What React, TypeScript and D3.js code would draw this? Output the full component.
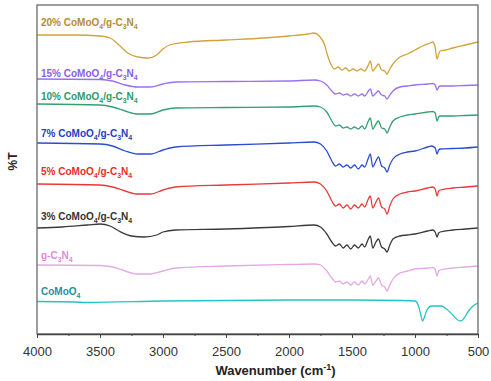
import React, { useRef, useEffect } from "react";
import * as d3 from "d3";

type Pt = [number, number];

// FTIR spectra, [wavenumber (cm-1), %T offset units]
const comoo4: Pt[] = [[4000, 32.5], [3700, 32], [3600, 31.5], [3000, 33], [2000, 34], [1500, 34], [1100, 33.5], [1000, 33], [975, 29], [955, 20], [940, 13], [925, 17], [905, 24], [870, 28], [830, 28], [790, 28], [750, 25], [700, 19], [660, 14], [635, 13], [610, 16], [575, 23], [540, 28], [500, 31]];

const gc3n4: Pt[] = [[4000, 69], [3500, 68.5], [3400, 67], [3300, 63], [3200, 60], [3100, 60], [3000, 63], [2900, 66], [2500, 68], [2000, 69.5], [1800, 70], [1750, 69], [1700, 63], [1660, 56], [1630, 52], [1600, 53], [1570, 50], [1540, 52], [1510, 49], [1480, 52], [1450, 49], [1420, 53], [1400, 50], [1370, 55], [1355, 58], [1335, 49], [1310, 53], [1290, 56], [1265, 49], [1240, 47], [1222, 43], [1200, 49], [1175, 55], [1120, 61], [1060, 63], [1000, 65], [900, 66], [860, 66.5], [840, 65], [825, 58], [812, 63], [800, 64], [700, 66], [600, 67], [500, 68]];

const pct3: Pt[] = [[4000, 106], [3800, 107], [3600, 109], [3500, 110], [3420, 108], [3350, 103], [3250, 98], [3150, 97], [3050, 99], [3000, 102], [2900, 104], [2500, 105], [2000, 107.5], [1800, 109], [1750, 107], [1700, 100], [1660, 92], [1630, 88], [1600, 90], [1570, 86], [1540, 89], [1510, 85], [1480, 89], [1450, 86], [1420, 90], [1400, 87], [1370, 95], [1355, 98], [1335, 86], [1310, 92], [1290, 95], [1265, 87], [1240, 85], [1222, 82], [1200, 89], [1175, 95], [1120, 98], [1060, 99], [1000, 100], [900, 103], [860, 104], [840, 102], [825, 97], [812, 101], [800, 102], [700, 104], [600, 105], [500, 106]];

const pct5: Pt[] = [[4000, 150], [3500, 149], [3400, 147], [3300, 143], [3200, 140], [3100, 140], [3000, 144], [2900, 147], [2500, 149], [2000, 151], [1800, 152], [1750, 150], [1700, 143], [1660, 133], [1630, 128], [1600, 130], [1570, 126], [1540, 129], [1510, 125], [1480, 129], [1450, 126], [1420, 130], [1400, 127], [1370, 135], [1355, 138], [1335, 126], [1310, 132], [1290, 136], [1265, 127], [1240, 125], [1222, 120], [1200, 128], [1175, 135], [1120, 140], [1060, 142], [1000, 143], [900, 146], [860, 147], [840, 145], [825, 138], [812, 143], [800, 144], [700, 146], [600, 147], [500, 148]];

const pct7: Pt[] = [[4000, 191], [3500, 190], [3400, 188], [3300, 183], [3200, 180], [3100, 180], [3000, 184], [2900, 187], [2500, 189], [2000, 191], [1800, 192], [1750, 190], [1700, 183], [1660, 173], [1630, 168], [1600, 170], [1570, 167], [1540, 169], [1510, 166], [1480, 169], [1450, 165], [1420, 169], [1400, 167], [1370, 176], [1355, 180], [1335, 167], [1310, 173], [1290, 177], [1265, 168], [1240, 166], [1222, 162], [1200, 169], [1175, 175], [1120, 180], [1060, 182], [1000, 183], [900, 187], [870, 188], [840, 186], [825, 180], [812, 184], [800, 185], [700, 185.5], [600, 186], [500, 187]];

const pct10: Pt[] = [[4000, 230], [3500, 229], [3400, 227], [3300, 223], [3200, 220], [3100, 220], [3000, 224], [2900, 226], [2500, 226.5], [2000, 227], [1800, 228], [1750, 227], [1700, 222], [1660, 213], [1630, 208], [1600, 209], [1570, 206], [1540, 207], [1510, 205], [1480, 207], [1450, 205], [1420, 208], [1400, 205], [1370, 213], [1355, 216], [1335, 205], [1310, 210], [1290, 213], [1265, 206], [1240, 205], [1222, 201], [1200, 207], [1175, 213], [1120, 217], [1060, 219], [1000, 220], [900, 222], [860, 222.5], [840, 221], [825, 213], [812, 217], [800, 218], [700, 218], [600, 218.5], [500, 219]];

const pct15: Pt[] = [[4000, 255], [3500, 254.5], [3400, 253], [3300, 249], [3200, 247], [3100, 247], [3000, 250], [2900, 252], [2500, 252.5], [2000, 253], [1800, 254], [1750, 253], [1700, 249], [1660, 243], [1630, 240], [1600, 241], [1570, 239], [1540, 240], [1510, 238], [1480, 240], [1450, 238], [1420, 240], [1400, 238], [1370, 243], [1355, 245], [1335, 238], [1310, 241], [1290, 243], [1265, 239], [1240, 238], [1222, 235], [1200, 239], [1175, 243], [1120, 247], [1060, 248], [1000, 249], [900, 250], [860, 250.5], [840, 249], [825, 244], [812, 247], [800, 248], [700, 248], [600, 248.5], [500, 249]];

const pct20: Pt[] = [[4000, 299], [3700, 299], [3500, 298], [3420, 296], [3350, 289], [3280, 281], [3200, 277], [3120, 276], [3050, 279], [3000, 285], [2950, 289], [2800, 292], [2500, 294], [2200, 296], [2000, 298], [1850, 300], [1800, 301], [1760, 298], [1720, 290], [1690, 277], [1660, 268], [1640, 265], [1610, 267], [1580, 264], [1550, 266], [1520, 263], [1490, 265], [1460, 263], [1430, 265], [1400, 263], [1370, 269], [1355, 273], [1335, 263], [1310, 267], [1290, 270], [1265, 264], [1240, 263], [1222, 260], [1200, 265], [1175, 270], [1120, 277], [1060, 280], [1000, 284], [940, 288], [880, 291], [860, 292], [840, 287], [825, 275], [812, 280], [800, 283], [760, 284], [700, 286], [600, 289], [500, 292]];

const seriesNames = ["CoMoO4", "g-C3N4", "3%", "5%", "7%", "10%", "15%", "20%"];
const seriesData = [comoo4, gc3n4, pct3, pct5, pct7, pct10, pct15, pct20];
const lineColors = ["#25c4c4", "#e4a8e6", "#3a3a3a", "#e83a3a", "#2b4cd0", "#33a070", "#9a70ee", "#d1a43a"];
const labelColors = ["#2a8ea2", "#e08ad6", "#333333", "#e82c2c", "#2042c4", "#2e9a68", "#8a5ee8", "#b48c34"];
const labelLevels = [42, 78, 117, 162, 200, 237, 260, 311];

const majorTicks = [4000, 3500, 3000, 2500, 2000, 1500, 1000, 500];
const minorTicks = [3750, 3250, 2750, 2250, 1750, 1250, 750];

const FONT = "'Liberation Sans', Arial, sans-serif";

const App = () => {
  const ref = useRef<SVGSVGElement>(null);

  useEffect(() => {
    const svg = d3.select(ref.current);
    svg.selectAll("*").remove();

    const left = 37, right = 478, top = 5, bottom = 334;

    const x = d3.scaleLinear().domain([4000, 500]).range([left, right]);
    const y = d3.scaleLinear().domain([0, 329]).range([bottom, top]);

    const line = d3.line<Pt>()
      .x(d => x(d[0]))
      .y(d => y(d[1]))
      .curve(d3.curveMonotoneX);

    seriesData.forEach((s, i) => {
      svg.append("path")
        .datum(s)
        .attr("d", line)
        .attr("fill", "none")
        .attr("stroke", lineColors[i])
        .attr("stroke-width", 1.3)
        .attr("stroke-linejoin", "round");
    });

    // labels with subscripts
    seriesNames.forEach((name, i) => {
      const t = svg.append("text")
        .attr("x", left + 4)
        .attr("y", y(labelLevels[i]) + 3)
        .attr("fill", labelColors[i])
        .attr("font-family", FONT)
        .attr("font-weight", "bold")
        .attr("font-size", 10);
      let shift = 0;
      const sub = (txt: string) => {
        t.append("tspan").attr("font-size", 7).attr("dy", 2.5 - shift).text(txt);
        shift = 2.5;
      };
      const piece = (txt: string) => {
        t.append("tspan").attr("dy", -shift).text(txt);
        shift = 0;
      };
      if (name === "CoMoO4") {
        piece("CoMoO"); sub("4");
      } else if (name === "g-C3N4") {
        piece("g-C"); sub("3"); piece("N"); sub("4");
      } else {
        piece(name + " CoMoO"); sub("4"); piece("/g-C"); sub("3"); piece("N"); sub("4");
      }
    });

    // frame
    svg.append("rect")
      .attr("x", left).attr("y", top)
      .attr("width", right - left).attr("height", bottom - top)
      .attr("fill", "none").attr("stroke", "#6a6a6a").attr("stroke-width", 1.3);

    const gx = svg.append("g")
      .attr("transform", `translate(0,${bottom})`)
      .call(d3.axisBottom(x).tickValues(majorTicks).tickSize(4).tickSizeOuter(0).tickPadding(9).tickFormat(d3.format("d")));
    gx.select(".domain").attr("stroke", "#444").attr("stroke-width", 1.3);
    gx.selectAll(".tick line").attr("stroke", "#444");
    gx.selectAll("text").attr("font-family", FONT).attr("font-size", 13).attr("fill", "#333");

    const gm = svg.append("g")
      .attr("transform", `translate(0,${bottom})`)
      .call(d3.axisBottom(x).tickValues(minorTicks).tickSize(2).tickSizeOuter(0).tickFormat(() => ""));
    gm.select(".domain").remove();
    gm.selectAll(".tick line").attr("stroke", "#444");

    svg.append("text")
      .attr("x", (left + right) / 2 + 18)
      .attr("y", 375)
      .attr("text-anchor", "middle")
      .attr("font-family", FONT)
      .attr("font-weight", "bold")
      .attr("font-size", 13)
      .attr("fill", "#222")
      .call(t => {
        t.append("tspan").text("Wavenumber (cm");
        t.append("tspan").attr("font-size", 9).attr("dy", -5).text("-1");
        t.append("tspan").attr("dy", 5).text(")");
      });

    svg.append("text")
      .attr("transform", `translate(17,${(top + bottom) / 2 - 8}) rotate(-90)`)
      .attr("text-anchor", "middle")
      .attr("font-family", FONT)
      .attr("font-weight", "bold")
      .attr("font-size", 12)
      .attr("fill", "#222")
      .text("%T");
  }, []);

  return (
    <svg ref={ref} width={491} height={381}
      style={{ position: "absolute", left: 0, top: 0, background: "#fff" }} />
  );
};

export default App;
